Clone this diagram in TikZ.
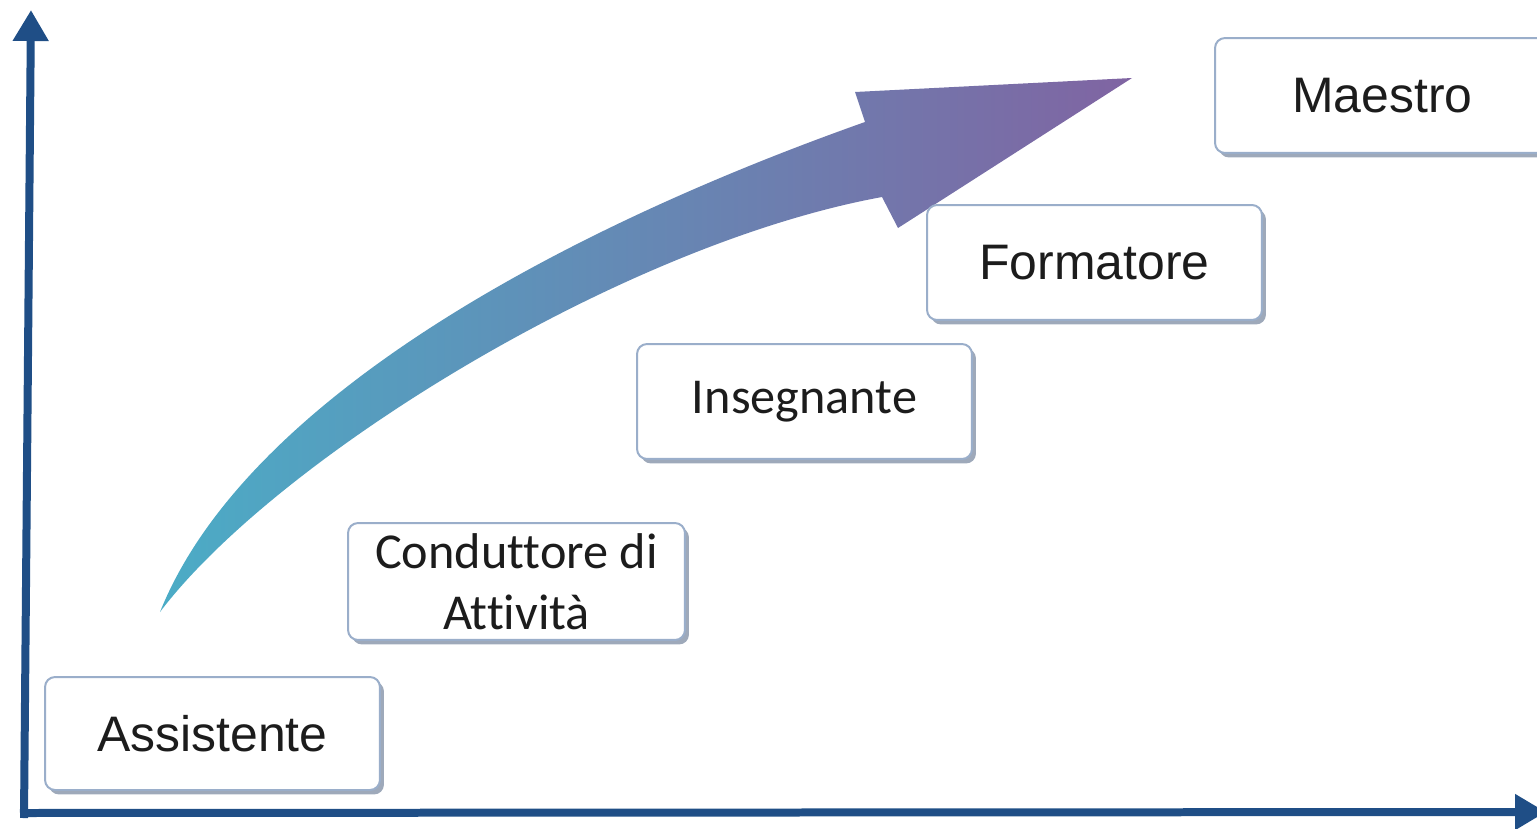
\documentclass[tikz,border=0pt]{standalone}
\usepackage{fontspec}
\setmainfont{Liberation Sans}
\newfontfamily\calib[Ligatures=NoCommon]{Carlito}
\usetikzlibrary{arrows.meta,shadows}
\definecolor{axisc}{HTML}{1F4E86}
\definecolor{boxborder}{HTML}{9AAECA}
\definecolor{shadowc}{HTML}{7D8CA3}
\definecolor{arrleft}{RGB}{75,172,198}
\definecolor{arrright}{RGB}{128,100,162}
\definecolor{txt}{HTML}{1C1C1C}
\tikzset{
  axisline/.style={draw=axisc, line width=0.16cm, -{Triangle[length=0.62cm,width=0.68cm]}},
  stagebox/.style={draw=boxborder, line width=0.04cm, rounded corners=0.2cm, fill=white,
    minimum width=6.7cm, minimum height=2.3cm, inner sep=0pt, text=txt, align=center,
    drop shadow={shadow xshift=0.08cm, shadow yshift=-0.09cm, fill=shadowc, opacity=0.75}},
  arialtext/.style={font=\fontsize{28.4}{34}\selectfont},
  calibtext/.style={font=\calib\fontsize{28.6}{34.5}\selectfont},
}
\begin{document}
\begin{tikzpicture}[x=0.02cm,y=-0.02cm]
\useasboundingbox (0,0) rectangle (1537,828);
% axes
\coordinate (o1) at (24,818);
\coordinate (ytip) at (31,10);
\coordinate (o2) at (20,813);
\coordinate (xtip) at (1546,812);
\draw[axisline] (o1) -- (ytip);
\draw[axisline] (o2) -- (xtip);
% big curved arrow
\shade[left color=arrleft, right color=arrright]
  (160,612) .. controls (245,400) and (560,230) .. (865,122)
  -- (855,92) -- (1132,78) -- (898,228) -- (882,197)
  .. controls (620,245) and (275,460) .. (160,612) -- cycle;
% boxes
\node[stagebox, arialtext, minimum height=2.26cm] (assist) at (212.5,733.5) {Assistente};
\node[stagebox, calibtext, minimum width=6.74cm, minimum height=2.34cm] (cond) at (516.5,581.5) {Conduttore di\\Attività};
\node[stagebox, calibtext] (ins) at (804.5,401.5) {Insegnante};
\node[stagebox, arialtext] (form) at (1094.5,262.5) {Formatore};
\node[stagebox, arialtext] (maes) at (1382.5,95.5) {Maestro};
\end{tikzpicture}
\end{document}
